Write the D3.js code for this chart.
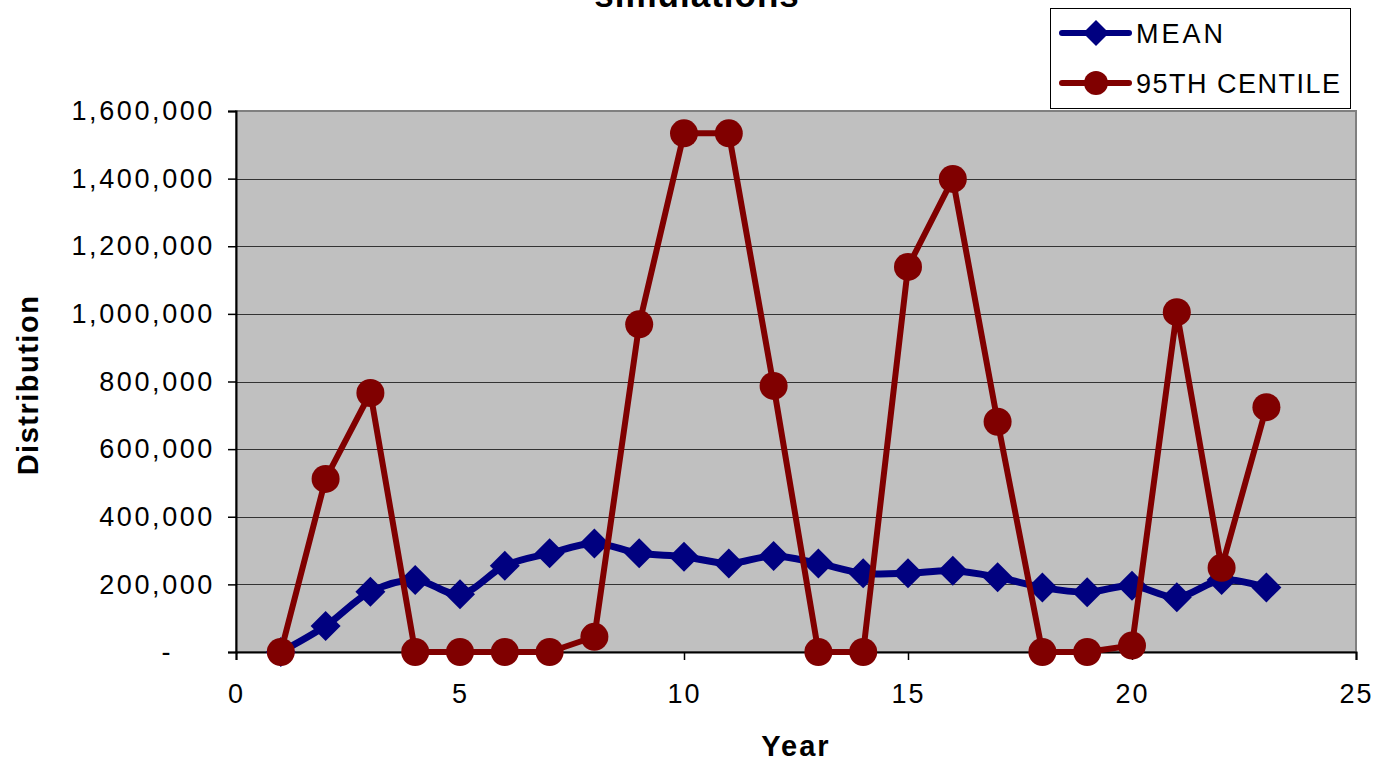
<!DOCTYPE html>
<html>
<head>
<meta charset="utf-8">
<script src="https://cdn.jsdelivr.net/npm/d3@7"></script>
<style>
  html, body { margin: 0; padding: 0; background: #fff; }
  svg { display: block; font-family: "Liberation Sans", Arial, sans-serif; }
</style>
</head>
<body>
<svg id="chart" width="1376" height="765"></svg>
<script>
// Yearly values of the simulated distribution
const years = d3.range(1, 24);
const meanValues = [0, 77000, 178000, 213000, 171000, 255000, 292000, 321000, 292000, 282000,
  262000, 284000, 262000, 233000, 233000, 240000, 221000, 191000, 177000, 196000,
  162000, 213000, 191000];
const centileValues = [0, 512000, 766000, 0, 0, 0, 0, 45000, 969000, 1534000,
  1534000, 787000, 0, 0, 1139000, 1399000, 681000, 0, 0, 19000,
  1005000, 249000, 724000];
const seriesNames = ["MEAN", "95TH CENTILE"];
const yTicks = [0, 200000, 400000, 600000, 800000, 1000000, 1200000, 1400000, 1600000];
const xTicks = [0, 5, 10, 15, 20, 25];

const svg = d3.select("#chart");
const plot = { left: 236, right: 1356, top: 111, bottom: 652 };
const blue = "#000080", red = "#800000";

const x = d3.scaleLinear().domain([0, 25]).range([plot.left, plot.right]);
const y = d3.scaleLinear().domain([0, 1600000]).range([plot.bottom, plot.top]);

// Title (its first line sits above the visible area)
svg.append("text")
  .attr("x", 697).attr("y", 7)
  .attr("text-anchor", "middle")
  .attr("font-size", 35).attr("font-weight", "bold")
  .attr("letter-spacing", 1)
  .text("simulations");

// Plot background and frame
svg.append("rect")
  .attr("x", plot.left).attr("y", plot.top)
  .attr("width", plot.right - plot.left).attr("height", plot.bottom - plot.top)
  .attr("fill", "#c0c0c0")
  .attr("stroke", "#808080").attr("stroke-width", 2);

// Horizontal gridlines
svg.append("g")
  .selectAll("line")
  .data(yTicks.filter(d => d > 0 && d < 1600000))
  .join("line")
  .attr("x1", plot.left).attr("x2", plot.right)
  .attr("y1", d => Math.round(y(d)) + 0.5).attr("y2", d => Math.round(y(d)) + 0.5)
  .attr("stroke", "#333").attr("stroke-width", 1.2);

// Y axis
const fmt = d3.format(",");
const yAxis = d3.axisLeft(y)
  .tickValues(yTicks)
  .tickSize(8)
  .tickPadding(13)
  .tickFormat(d => d === 0 ? "-" : fmt(d));
const gy = svg.append("g")
  .attr("transform", `translate(${plot.left},0)`)
  .call(yAxis);
gy.select(".domain").attr("stroke", "#000").attr("stroke-width", 2);
gy.selectAll(".tick line").attr("stroke", "#000").attr("stroke-width", 1.5);
gy.selectAll(".tick text").attr("font-size", 27).attr("fill", "#000")
  .attr("font-family", "Liberation Sans, Arial, sans-serif")
  .attr("letter-spacing", 2.6)
  .attr("dx", d => d === 0 ? -42 : 0);

// X axis
const xAxis = d3.axisBottom(x)
  .tickValues(xTicks)
  .tickSize(8)
  .tickPadding(24)
  .tickFormat(d3.format("d"));
const gx = svg.append("g")
  .attr("transform", `translate(0,${plot.bottom})`)
  .call(xAxis);
gx.select(".domain").attr("stroke", "#000").attr("stroke-width", 2);
gx.selectAll(".tick line").attr("stroke", "#000").attr("stroke-width", 1.5);
gx.selectAll(".tick text").attr("font-size", 27).attr("fill", "#000")
  .attr("font-family", "Liberation Sans, Arial, sans-serif")
  .attr("letter-spacing", 2);

// Axis titles
svg.append("text")
  .attr("x", 796).attr("y", 756)
  .attr("text-anchor", "middle")
  .attr("font-size", 29).attr("font-weight", "bold")
  .attr("letter-spacing", 2)
  .text("Year");
svg.append("text")
  .attr("transform", "translate(38,385) rotate(-90)")
  .attr("text-anchor", "middle")
  .attr("font-size", 29).attr("font-weight", "bold")
  .attr("letter-spacing", 1.5)
  .text("Distribution");

function diamondPath(r) {
  return `M0,${-r}L${r},0L0,${r}L${-r},0Z`;
}

const meanData = years.map((yr, i) => ({ yr, v: meanValues[i] }));
const centData = years.map((yr, i) => ({ yr, v: centileValues[i] }));

// MEAN series (smoothed line with diamond markers)
svg.append("path")
  .datum(meanData)
  .attr("fill", "none")
  .attr("stroke", blue).attr("stroke-width", 7)
  .attr("stroke-linejoin", "round")
  .attr("d", d3.line().x(d => x(d.yr)).y(d => y(d.v)).curve(d3.curveCatmullRom.alpha(0.5)));
svg.append("g")
  .selectAll("path")
  .data(meanData)
  .join("path")
  .attr("transform", d => `translate(${x(d.yr)},${y(d.v)})`)
  .attr("d", diamondPath(15))
  .attr("fill", blue);

// 95TH CENTILE series (straight segments with circle markers)
svg.append("path")
  .datum(centData)
  .attr("fill", "none")
  .attr("stroke", red).attr("stroke-width", 6)
  .attr("stroke-linejoin", "round")
  .attr("d", d3.line().x(d => x(d.yr)).y(d => y(d.v)));
svg.append("g")
  .selectAll("circle")
  .data(centData)
  .join("circle")
  .attr("cx", d => x(d.yr)).attr("cy", d => y(d.v))
  .attr("r", 14)
  .attr("fill", red);

// Legend
const legend = svg.append("g");
legend.append("rect")
  .attr("x", 1050.5).attr("y", 8.5)
  .attr("width", 300).attr("height", 100)
  .attr("fill", "#fff").attr("stroke", "#000").attr("stroke-width", 1);
const rows = [
  { name: seriesNames[0], color: blue, shape: "diamond", cy: 33 },
  { name: seriesNames[1], color: red, shape: "circle", cy: 83 }
];
rows.forEach(r => {
  legend.append("line")
    .attr("x1", 1062).attr("x2", 1129)
    .attr("y1", r.cy).attr("y2", r.cy)
    .attr("stroke", r.color).attr("stroke-width", 6).attr("stroke-linecap", "round");
  if (r.shape === "diamond") {
    legend.append("path")
      .attr("transform", `translate(1096,${r.cy})`)
      .attr("d", diamondPath(13))
      .attr("fill", r.color);
  } else {
    legend.append("circle")
      .attr("cx", 1096).attr("cy", r.cy).attr("r", 12)
      .attr("fill", r.color);
  }
  legend.append("text")
    .attr("x", 1136).attr("y", r.cy + 10)
    .attr("font-size", 27)
    .attr("letter-spacing", r.shape === "diamond" ? 3 : 1.5)
    .text(r.name);
});
</script>
</body>
</html>
